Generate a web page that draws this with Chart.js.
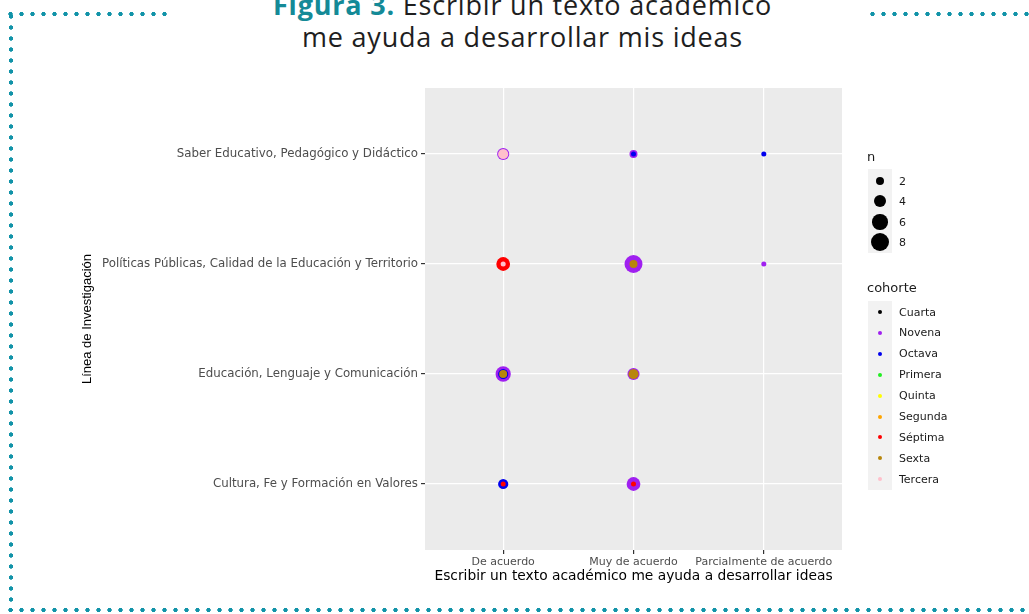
<!DOCTYPE html>
<html><head><meta charset="utf-8">
<script src="https://cdn.jsdelivr.net/npm/chart.js@4/dist/chart.umd.min.js"></script>
<style>
html,body{margin:0;padding:0;background:#fff;width:1029px;height:614px;overflow:hidden;}
body{position:relative;font-family:"DejaVu Sans",sans-serif;}
#wrap{position:absolute;left:0;top:0;width:1029px;height:600px;}
.dh{position:absolute;height:6px;background-image:radial-gradient(circle at center,#1193a8 0,#1193a8 1.9px,rgba(17,147,168,0) 2.5px);background-size:11px 6px;background-repeat:repeat-x;}
.dv{position:absolute;width:6px;background-image:radial-gradient(circle at center,#1193a8 0,#1193a8 1.9px,rgba(17,147,168,0) 2.5px);background-size:6px 11px;background-repeat:repeat-y;}
#title{position:absolute;left:8px;width:1029px;top:-11px;text-align:center;font-family:"Open Sans",sans-serif;font-size:27px;letter-spacing:0.8px;line-height:32px;color:#1e1e1e;}
#title b{color:#148a97;font-weight:700;}
.lt{position:absolute;font-size:13px;color:#1a1a1a;}
.lk{position:absolute;background:#f2f2f2;}
.ld{position:absolute;border-radius:50%;}
.ll{position:absolute;font-size:11px;color:#1a1a1a;line-height:13px;}
</style></head>
<body>
<div class="dh" style="left:5px;top:11px;width:165px;"></div>
<div class="dh" style="left:867px;top:11px;width:165px;"></div>
<div class="dv" style="left:8px;top:11px;height:600px;"></div>
<div class="dh" style="left:5px;top:607px;width:1030px;"></div>
<div id="title"><b>Figura 3.</b> Escribir un texto académico<br>me ayuda a desarrollar mis ideas</div>
<div id="wrap"><canvas id="c"></canvas></div>
<div id="legend"></div>
<script>
// ---- data ----
const respuestas = ['De acuerdo', 'Muy de acuerdo', 'Parcialmente de acuerdo'];
const lineas = [
  'Saber Educativo, Pedagógico y Didáctico',
  'Políticas Públicas, Calidad de la Educación y Territorio',
  'Educación, Lenguaje y Comunicación',
  'Cultura, Fe y Formación en Valores'
];
const cohortes = ['Cuarta', 'Novena', 'Octava', 'Primera', 'Quinta', 'Segunda', 'Séptima', 'Sexta', 'Tercera'];
const sizeBreaks = [2, 4, 6, 8];

const cuarta = [];
const novena = [
  { r: 'De acuerdo', l: 'Saber Educativo, Pedagógico y Didáctico', n: 4 },
  { r: 'Muy de acuerdo', l: 'Saber Educativo, Pedagógico y Didáctico', n: 2 },
  { r: 'Muy de acuerdo', l: 'Políticas Públicas, Calidad de la Educación y Territorio', n: 8 },
  { r: 'Parcialmente de acuerdo', l: 'Políticas Públicas, Calidad de la Educación y Territorio', n: 1 },
  { r: 'De acuerdo', l: 'Educación, Lenguaje y Comunicación', n: 6 },
  { r: 'Muy de acuerdo', l: 'Educación, Lenguaje y Comunicación', n: 4 },
  { r: 'Muy de acuerdo', l: 'Cultura, Fe y Formación en Valores', n: 5 }
];
const octava = [
  { r: 'Muy de acuerdo', l: 'Saber Educativo, Pedagógico y Didáctico', n: 1 },
  { r: 'Parcialmente de acuerdo', l: 'Saber Educativo, Pedagógico y Didáctico', n: 1 },
  { r: 'De acuerdo', l: 'Educación, Lenguaje y Comunicación', n: 3 },
  { r: 'De acuerdo', l: 'Cultura, Fe y Formación en Valores', n: 3 }
];
const primera = [];
const quinta = [];
const segunda = [];
const septima = [
  { r: 'De acuerdo', l: 'Políticas Públicas, Calidad de la Educación y Territorio', n: 5 },
  { r: 'De acuerdo', l: 'Cultura, Fe y Formación en Valores', n: 1 },
  { r: 'Muy de acuerdo', l: 'Cultura, Fe y Formación en Valores', n: 1 }
];
const sexta = [
  { r: 'Muy de acuerdo', l: 'Políticas Públicas, Calidad de la Educación y Territorio', n: 2 },
  { r: 'De acuerdo', l: 'Educación, Lenguaje y Comunicación', n: 2 },
  { r: 'Muy de acuerdo', l: 'Educación, Lenguaje y Comunicación', n: 3 }
];
const tercera = [
  { r: 'De acuerdo', l: 'Saber Educativo, Pedagógico y Didáctico', n: 3 },
  { r: 'De acuerdo', l: 'Políticas Públicas, Calidad de la Educación y Territorio', n: 1 }
];

// ---- styles ----
const coloresCohorte = {
  'Cuarta': '#000000', 'Novena': '#A020F0', 'Octava': '#0000EE', 'Primera': '#22EE22',
  'Quinta': '#FFFF00', 'Segunda': '#FFA500', 'Séptima': '#FF0000', 'Sexta': '#B8860B', 'Tercera': '#FFC0CB'
};
const ordenDibujo = { 'Novena': 8, 'Octava': 7, 'Séptima': 6, 'Sexta': 5, 'Tercera': 4, 'Cuarta': 3, 'Primera': 2, 'Quinta': 1, 'Segunda': 0 };
const datosCohorte = { 'Cuarta': cuarta, 'Novena': novena, 'Octava': octava, 'Primera': primera, 'Quinta': quinta, 'Segunda': segunda, 'Séptima': septima, 'Sexta': sexta, 'Tercera': tercera };
function radio(n) { return 3.53 * Math.sqrt(n) - 1; }

const datasets = cohortes.map(c => ({
  label: c,
  data: datosCohorte[c].map(d => ({ x: respuestas.indexOf(d.r) + 1, y: lineas.indexOf(d.l) + 1, n: d.n })),
  backgroundColor: coloresCohorte[c],
  borderWidth: 0,
  pointRadius: ctx => radio(ctx.raw ? ctx.raw.n : 1),
  pointHoverRadius: ctx => radio(ctx.raw ? ctx.raw.n : 1),
  order: ordenDibujo[c]
}));

const panelBg = {
  id: 'panelBg',
  beforeDraw(chart) {
    const a = chart.chartArea, ctx = chart.ctx;
    ctx.save(); ctx.fillStyle = '#EBEBEB';
    ctx.fillRect(a.left, a.top, a.right - a.left, a.bottom - a.top);
    ctx.restore();
  }
};

new Chart(document.getElementById('c'), {
  type: 'scatter',
  data: { datasets },
  plugins: [panelBg],
  options: {
    responsive: true, maintainAspectRatio: false, animation: false,
    layout: { padding: { left: 80, top: 88, right: 187, bottom: 15 } },
    plugins: { legend: { display: false }, tooltip: { enabled: false } },
    scales: {
      x: {
        type: 'linear', min: 0.4, max: 3.6,
        afterBuildTicks: s => { s.ticks = respuestas.map((_, i) => ({ value: i + 1 })); },
        afterFit: s => { s.height = 35; },
        ticks: { callback: v => respuestas[Math.round(v) - 1], color: '#4d4d4d', font: { size: 11, family: '"DejaVu Sans"' }, padding: 2, maxRotation: 0, autoSkip: false },
        grid: { color: '#ffffff', lineWidth: 1.2, tickColor: '#333333', tickLength: 4, drawTicks: true },
        border: { display: false },
        title: { display: true, text: 'Escribir un texto académico me ayuda a desarrollar ideas', color: '#000', font: { size: 13.8, family: '"DejaVu Sans"' }, padding: 0 }
      },
      y: {
        type: 'linear', min: 0.4, max: 4.6, reverse: true,
        afterBuildTicks: s => { s.ticks = lineas.map((_, i) => ({ value: i + 1 })); },
        afterFit: s => { s.width = 345; },
        ticks: { callback: v => lineas[Math.round(v) - 1], color: '#4d4d4d', font: { size: 11.8, family: '"DejaVu Sans"' }, padding: 3, autoSkip: false },
        grid: { color: '#ffffff', lineWidth: 1.2, tickColor: '#333333', tickLength: 4, drawTicks: true },
        border: { display: false },
        title: { display: true, text: 'Línea de Investigación', color: '#000', font: { size: 13, family: '"Liberation Sans", Arial' }, padding: 0 }
      }
    }
  }
});

// ---- legend (HTML) ----
const lg = document.getElementById('legend');
function add(cls, style, text) { const d = document.createElement('div'); d.className = cls; Object.assign(d.style, style); if (text) d.textContent = text; lg.appendChild(d); }
add('lt', { left: '867px', top: '149px' }, 'n');
add('lk', { left: '868px', top: '169px', width: '24px', height: '84px' });
const rowsN = [181, 201, 222, 242];
sizeBreaks.forEach((n, i) => {
  const r = radio(n);
  add('ld', { left: (880 - r) + 'px', top: (rowsN[i] - r) + 'px', width: 2 * r + 'px', height: 2 * r + 'px', background: '#000' });
  add('ll', { left: '899px', top: (rowsN[i] - 6.5) + 'px' }, String(n));
});
add('lt', { left: '867px', top: '280px' }, 'cohorte');
add('lk', { left: '868px', top: '301px', width: '24px', height: '189px' });
cohortes.forEach((c, i) => {
  const y = 312 + i * 20.9;
  add('ld', { left: '878px', top: (y - 2) + 'px', width: '4px', height: '4px', background: coloresCohorte[c] });
  add('ll', { left: '899px', top: (y - 6.5) + 'px' }, c);
});
</script>
</body></html>
